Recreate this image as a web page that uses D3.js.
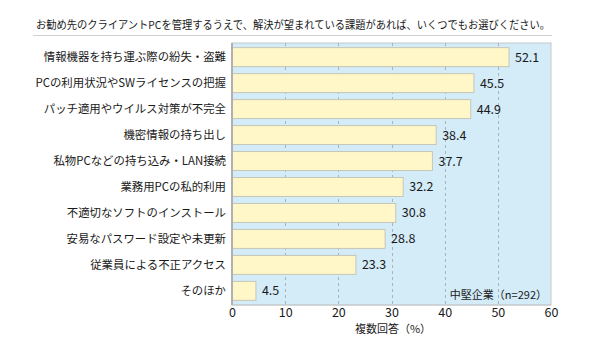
<!DOCTYPE html>
<html><head><meta charset="utf-8">
<script src="https://cdn.jsdelivr.net/npm/d3@7"></script>
<style>body{margin:0;background:#fff}svg{display:block}text{font-family:"Noto Sans CJK JP","Noto Sans",sans-serif;fill:#1a1a1a}</style>
</head><body>
<svg id="c" width="590" height="350"></svg>
<script>
const title = "お勧め先のクライアントPCを管理するうえで、解決が望まれている課題があれば、いくつでもお選びください。";
const categories = ["情報機器を持ち運ぶ際の紛失・盗難","PCの利用状況やSWライセンスの把握","パッチ適用やウイルス対策が不完全","機密情報の持ち出し","私物PCなどの持ち込み・LAN接続","業務用PCの私的利用","不適切なソフトのインストール","安易なパスワード設定や未更新","従業員による不正アクセス","そのほか"];
const values = [52.1,45.5,44.9,38.4,37.7,32.2,30.8,28.8,23.3,4.5];
const ticks = [0,10,20,30,40,50,60];
const axisTitle = "複数回答（%）";
const legendLabel = "中堅企業（n=292）";

const svg = d3.select("#c");
const m = {left:232, right:551, top:43, bottom:305};
const x = d3.scaleLinear().domain([0,60]).range([m.left, m.right]);
const y = d3.scaleBand().domain(categories).range([m.top+1, m.bottom-1]).paddingInner(0.27).paddingOuter(0.14);

// title
svg.append("text").attr("x",36).attr("y",29).attr("font-size",10.8).text(title)
  .attr("textLength",514).attr("lengthAdjust","spacingAndGlyphs");
svg.append("line").attr("x1",33).attr("x2",552).attr("y1",35.5).attr("y2",35.5).attr("stroke","#d0d0d0");

// background
svg.append("rect").attr("x",m.left).attr("y",m.top).attr("width",m.right-m.left).attr("height",m.bottom-m.top)
  .attr("fill","#d4ebf8").attr("stroke","#c4c9cc");

// grid
svg.append("g").selectAll("line").data(ticks.filter(t=>t>0&&t<60)).join("line")
  .attr("x1",d=>Math.round(x(d))+0.5).attr("x2",d=>Math.round(x(d))+0.5)
  .attr("y1",m.top).attr("y2",m.bottom)
  .attr("stroke","#a8b4bc").attr("stroke-dasharray","3,3");

// bars
svg.append("g").selectAll("rect").data(values).join("rect")
  .attr("x",x(0)).attr("y",(d,i)=>y(categories[i]))
  .attr("width",d=>x(d)-x(0)).attr("height",y.bandwidth())
  .attr("fill","#fff7c8").attr("stroke","#c6c6b8").attr("stroke-width",1);

// left axis line
svg.append("line").attr("x1",m.left).attr("x2",m.left).attr("y1",m.top).attr("y2",m.bottom)
  .attr("stroke","#b0b0b0").attr("stroke-width",2);
svg.append("line").attr("x1",m.left).attr("x2",m.right).attr("y1",m.bottom).attr("y2",m.bottom)
  .attr("stroke","#c4c9cc");

// value labels
svg.append("g").selectAll("text").data(values).join("text")
  .attr("x",d=>x(d)+6).attr("y",(d,i)=>y(categories[i])+y.bandwidth()/2)
  .attr("dy","0.36em").attr("font-size",12.5).attr("font-family","Liberation Sans, Arial, sans-serif")
  .text(d=>d.toFixed(1));

// category labels
svg.append("g").selectAll("text").data(categories).join("text")
  .attr("x",226).attr("y",d=>y(d)+y.bandwidth()/2).attr("dy","0.36em")
  .attr("text-anchor","end").attr("font-size",11.4).text(d=>d);

// x axis
const ax = svg.append("g").attr("transform",`translate(0,${m.bottom})`)
  .call(d3.axisBottom(x).tickValues(ticks).tickSize(0).tickPadding(3).tickFormat(d3.format("d")));
ax.select(".domain").remove();
ax.selectAll("text").attr("font-size",12.5).attr("font-family","Liberation Sans, Arial, sans-serif").attr("fill","#1a1a1a");

svg.append("text").attr("x",393).attr("y",333).attr("text-anchor","middle").attr("font-size",11).text(axisTitle);
svg.append("text").attr("x",547).attr("y",299).attr("text-anchor","end").attr("font-size",11).text(legendLabel);
</script>
</body></html>
